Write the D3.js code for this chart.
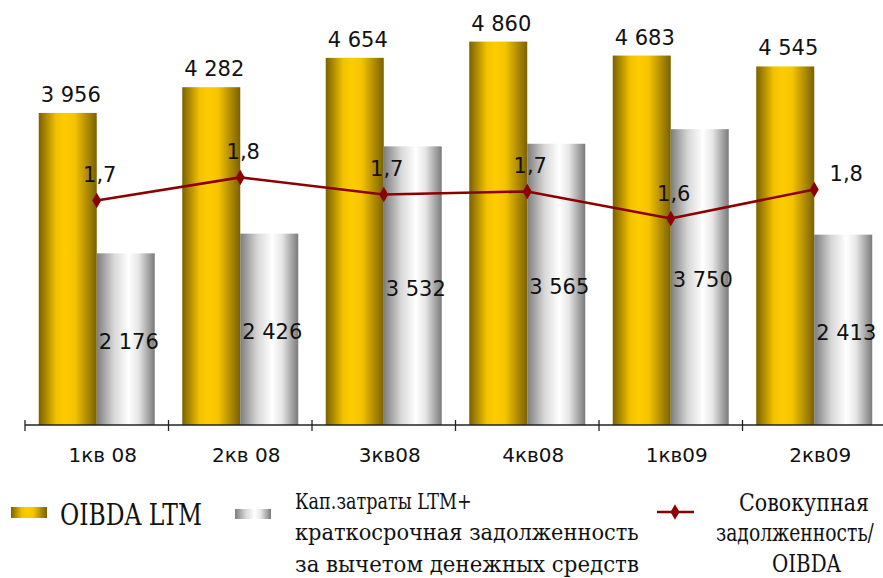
<!DOCTYPE html>
<html>
<head>
<meta charset="utf-8">
<script src="https://cdn.jsdelivr.net/npm/d3@7"></script>
<style>
  html, body { margin: 0; padding: 0; background: #ffffff; }
  svg { display: block; }
</style>
</head>
<body>
<script>
// Quarterly OIBDA vs. capex + short-term debt, with total debt / OIBDA ratio
const quarters = ["1кв 08", "2кв 08", "3кв08", "4кв08", "1кв09", "2кв09"];
const oibdaLTM = [3956, 4282, 4654, 4860, 4683, 4545];
const capexDebt = [2176, 2426, 3532, 3565, 3750, 2413];
const debtRatio = [1.70, 1.815, 1.73, 1.745, 1.61, 1.755];
const ratioLabelSide = ["top", "top", "top", "top", "top", "right"];

const seriesNames = {
  oibda: ["OIBDA LTM"],
  capex: ["Кап.затраты LTM+", "краткосрочная задолженность", "за вычетом денежных средств"],
  ratio: ["Совокупная", "задолженность/", "OIBDA"]
};

const W = 883, H = 578;
const baseY = 425;
const sans = "'DejaVu Sans', Verdana, sans-serif";
const serif = "'DejaVu Serif', 'Liberation Serif', serif";

const svg = d3.select("body").append("svg")
  .attr("width", W).attr("height", H)
  .attr("viewBox", `0 0 ${W} ${H}`);

const defs = svg.append("defs");
function hGradient(id, stops) {
  const g = defs.append("linearGradient").attr("id", id)
    .attr("x1", "0%").attr("x2", "100%").attr("y1", "0%").attr("y2", "0%");
  stops.forEach(([o, c]) => g.append("stop").attr("offset", o).attr("stop-color", c));
}
hGradient("goldGrad", [["0%", "#7a6100"], ["30%", "#f2c200"], ["45%", "#ffcc00"], ["62%", "#f5c400"], ["100%", "#7a6100"]]);
hGradient("silverGrad", [["0%", "#7d7d7d"], ["30%", "#d8d8d8"], ["55%", "#ffffff"], ["72%", "#e6e6e6"], ["100%", "#7a7a7a"]]);

// Scales
const x0 = d3.scaleBand().domain(quarters).range([25, 886]).paddingInner(0).paddingOuter(0);
const x1 = d3.scaleBand().domain(["oibda", "capex"]).range([0, x0.bandwidth()])
  .paddingInner(0).paddingOuter(0.2371);
const y = d3.scaleLinear().domain([0, 5400]).range([baseY, -1]);
const y2 = d3.scaleLinear().domain([0.58, 2.7]).range([baseY, 0]);

const fmtInt = v => d3.format(",")(v).replace(/,/g, " ");
const fmtRatio = v => d3.format(".1f")(v).replace(".", ",");

const rows = quarters.map((q, i) => ({ q, oibda: oibdaLTM[i], capex: capexDebt[i], ratio: debtRatio[i], side: ratioLabelSide[i] }));

// Bars
const groups = svg.append("g").selectAll("g").data(rows).join("g")
  .attr("transform", d => `translate(${x0(d.q)},0)`);

groups.append("rect")
  .attr("x", x1("oibda")).attr("width", x1.bandwidth())
  .attr("y", d => y(d.oibda)).attr("height", d => baseY - y(d.oibda))
  .attr("fill", "url(#goldGrad)");

groups.append("rect")
  .attr("x", x1("capex")).attr("width", x1.bandwidth())
  .attr("y", d => y(d.capex)).attr("height", d => baseY - y(d.capex))
  .attr("fill", "url(#silverGrad)");

// Bar value labels
groups.append("text")
  .attr("x", x1("oibda") + x1.bandwidth() / 2 + 3)
  .attr("y", d => y(d.oibda) - 11)
  .attr("text-anchor", "middle")
  .attr("font-family", sans).attr("font-size", 21).attr("fill", "#111")
  .text(d => fmtInt(d.oibda));

groups.append("text")
  .attr("x", x1("capex") + x1.bandwidth() / 2 + 3)
  .attr("y", d => (y(d.capex) + baseY) / 2 + 10)
  .attr("text-anchor", "middle")
  .attr("font-family", sans).attr("font-size", 21).attr("fill", "#111")
  .text(d => fmtInt(d.capex));

// Axis
const xAxis = svg.append("g").attr("transform", `translate(0,${baseY})`);
xAxis.append("line").attr("x1", 25).attr("x2", W).attr("y1", 0).attr("y2", 0)
  .attr("stroke", "#222").attr("stroke-width", 1.5);
xAxis.selectAll("line.tick").data(quarters).join("line").attr("class", "tick")
  .attr("x1", d => x0(d)).attr("x2", d => x0(d))
  .attr("y1", -5).attr("y2", 6)
  .attr("stroke", "#222").attr("stroke-width", 1.3);
xAxis.selectAll("text").data(quarters).join("text")
  .attr("x", d => x0(d) + x0.bandwidth() / 2 + 6)
  .attr("y", 37)
  .attr("text-anchor", "middle")
  .attr("font-family", sans).attr("font-size", 20).attr("fill", "#111")
  .text(d => d);

// Ratio line
const cx = d => x0(d.q) + x0.bandwidth() / 2;
const line = d3.line().x(cx).y(d => y2(d.ratio));
svg.append("path").datum(rows)
  .attr("d", line).attr("fill", "none")
  .attr("stroke", "#8b0000").attr("stroke-width", 2.6);

const diamond = d3.symbol().type(d3.symbolDiamond).size(70);
svg.append("g").selectAll("path").data(rows).join("path")
  .attr("d", diamond)
  .attr("transform", d => `translate(${cx(d)},${y2(d.ratio)})`)
  .attr("fill", "#8b0000");

svg.append("g").selectAll("text").data(rows).join("text")
  .attr("x", d => d.side === "right" ? cx(d) + 32 : cx(d) + 3)
  .attr("y", d => d.side === "right" ? y2(d.ratio) - 8 : y2(d.ratio) - 18)
  .attr("text-anchor", "middle")
  .attr("font-family", sans).attr("font-size", 21).attr("fill", "#111")
  .text(d => fmtRatio(d.ratio));

// Legend text drawn at a fixed left edge, squeezed horizontally to a target width
function fittedText(parent, str, left, baseline, size, width) {
  const t = parent.append("text")
    .attr("font-family", serif).attr("font-stretch", "condensed")
    .attr("font-size", size).attr("fill", "#111")
    .text(str);
  const natural = t.node().getComputedTextLength() || width;
  t.attr("transform", `translate(${left},${baseline}) scale(${width / natural},1)`);
  return t;
}

const legend = svg.append("g");
legend.append("rect").attr("x", 11).attr("y", 507).attr("width", 36).attr("height", 11)
  .attr("fill", "url(#goldGrad)");
fittedText(legend, seriesNames.oibda[0], 60, 525, 29, 142);

legend.append("rect").attr("x", 235).attr("y", 509).attr("width", 36).attr("height", 10)
  .attr("fill", "url(#silverGrad)");
const capexWidths = [177, 344, 344];
seriesNames.capex.forEach((s, i) => fittedText(legend, s, 295, 509 + i * 31.3, 22, capexWidths[i]));

legend.append("line").attr("x1", 657).attr("x2", 694).attr("y1", 512).attr("y2", 512)
  .attr("stroke", "#8b0000").attr("stroke-width", 2.6);
legend.append("path").attr("d", diamond).attr("transform", "translate(675,512)")
  .attr("fill", "#8b0000");
const ratioLeft = [739, 716, 772];
const ratioWidths = [130, 158, 69];
seriesNames.ratio.forEach((s, i) => fittedText(legend, s, ratioLeft[i], 510.5 + i * 30.5, 24, ratioWidths[i]));
</script>
</body>
</html>
